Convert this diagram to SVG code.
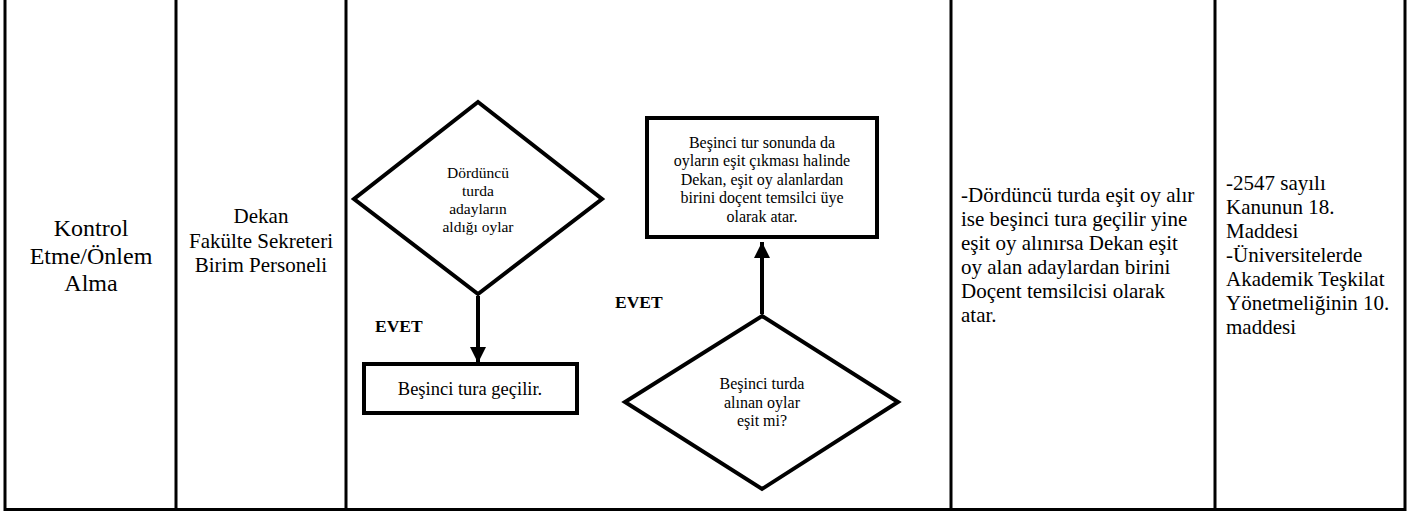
<svg xmlns="http://www.w3.org/2000/svg" width="1418" height="514" viewBox="0 0 1418 514">
<style>
  text { font-family: "Liberation Serif", "Times New Roman", serif; fill: #000; }
  .grid { stroke: #000; stroke-width: 3; fill: none; }
  .shape { stroke: #000; stroke-width: 4; fill: #fff; stroke-linejoin: miter; }
  .conn { stroke: #000; stroke-width: 4; fill: none; }
  .c { text-anchor: middle; }
  .lbl { font-weight: bold; font-size: 17.5px; }
</style>
<defs>
  <marker id="arrow" viewBox="0 0 10 10" refX="10" refY="5" markerWidth="4" markerHeight="4" markerUnits="strokeWidth" orient="auto">
    <path d="M0,0 L10,5 L0,10 z" fill="#000"/>
  </marker>
</defs>
<rect width="1418" height="514" fill="#fff"/>
<g id="table">
  <polyline class="grid" points="5,0 5,509.5 1405,509.5 1405,0"/>
  <line class="grid" x1="176" y1="0" x2="176" y2="509"/>
  <line class="grid" x1="346" y1="0" x2="346" y2="509"/>
  <line class="grid" x1="951" y1="0" x2="951" y2="509"/>
  <line class="grid" x1="1215" y1="0" x2="1215" y2="509"/>
</g>
<g id="col1" font-size="24">
  <text class="c" x="91" y="236">Kontrol</text>
  <text class="c" x="91" y="263.5">Etme/Önlem</text>
  <text class="c" x="91" y="291">Alma</text>
</g>
<g id="col2" font-size="21">
  <text class="c" x="261" y="223">Dekan</text>
  <text class="c" x="261" y="247.5">Fakülte Sekreteri</text>
  <text class="c" x="261" y="272">Birim Personeli</text>
</g>
<g id="connectors">
  <line class="conn" x1="478" y1="296" x2="478" y2="363" marker-end="url(#arrow)"/>
  <line class="conn" x1="762" y1="314" x2="762" y2="242" marker-end="url(#arrow)"/>
</g>
<g id="d1">
  <polygon class="shape" points="478,102 602,199 478,294 354,199"/>
  <g font-size="15.5">
    <text class="c" x="478" y="178">Dördüncü</text>
    <text class="c" x="478" y="196">turda</text>
    <text class="c" x="478" y="214">adayların</text>
    <text class="c" x="478" y="232">aldığı oylar</text>
  </g>
</g>
<g id="lbl1"><text class="lbl" x="375" y="332">EVET</text></g>
<g id="b1">
  <rect class="shape" x="364" y="364" width="213" height="49"/>
  <text class="c" x="470" y="394.5" font-size="18.5">Beşinci tura geçilir.</text>
</g>
<g id="b2">
  <rect class="shape" x="647" y="118" width="230" height="119"/>
  <g font-size="16">
    <text class="c" x="762" y="147.5">Beşinci tur sonunda da</text>
    <text class="c" x="762" y="166">oyların eşit çıkması halinde</text>
    <text class="c" x="762" y="184.5">Dekan, eşit oy alanlardan</text>
    <text class="c" x="762" y="203">birini doçent temsilci üye</text>
    <text class="c" x="762" y="221.5">olarak atar.</text>
  </g>
</g>
<g id="lbl2"><text class="lbl" x="615" y="308">EVET</text></g>
<g id="d2">
  <polygon class="shape" points="762,316 898,402 762,489 625,402"/>
  <g font-size="16">
    <text class="c" x="762" y="389">Beşinci turda</text>
    <text class="c" x="762" y="407.5">alınan oylar</text>
    <text class="c" x="762" y="426">eşit mi?</text>
  </g>
</g>
<g id="col4" font-size="21">
  <text x="961" y="202">-Dördüncü turda eşit oy alır</text>
  <text x="961" y="226">ise beşinci tura geçilir yine</text>
  <text x="961" y="250">eşit oy alınırsa Dekan eşit</text>
  <text x="961" y="274">oy alan adaylardan birini</text>
  <text x="961" y="298">Doçent temsilcisi olarak</text>
  <text x="961" y="322">atar.</text>
</g>
<g id="col5" font-size="21">
  <text x="1226" y="190">-2547 sayılı</text>
  <text x="1226" y="214">Kanunun 18.</text>
  <text x="1226" y="238">Maddesi</text>
  <text x="1226" y="262">-Üniversitelerde</text>
  <text x="1226" y="286">Akademik Teşkilat</text>
  <text x="1226" y="310">Yönetmeliğinin 10.</text>
  <text x="1226" y="334">maddesi</text>
</g>
</svg>
